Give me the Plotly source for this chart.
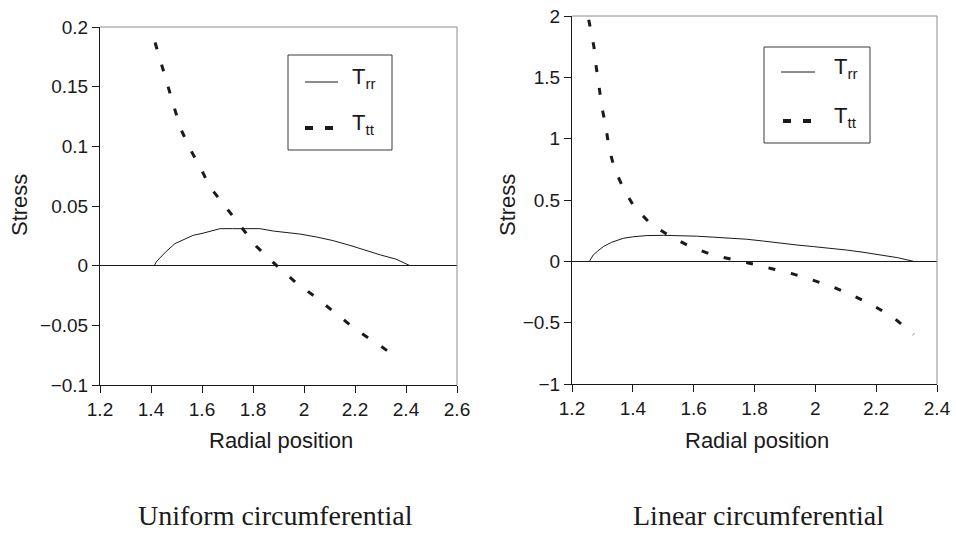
import plotly.graph_objects as go

W, H = 956, 533

# ---------------- data ----------------
uni_trr_x = [1.413, 1.42, 1.435, 1.46, 1.494, 1.53, 1.566, 1.60, 1.64, 1.671, 1.72, 1.78,
             1.827, 1.88, 1.93, 1.984, 2.05, 2.114, 2.18, 2.245, 2.30, 2.36, 2.416]
uni_trr_y = [0.0, 0.003, 0.0065, 0.012, 0.0185, 0.022, 0.0255, 0.027, 0.029, 0.031, 0.031, 0.031,
             0.031, 0.029, 0.028, 0.0265, 0.024, 0.021, 0.017, 0.0125, 0.009, 0.0055, 0.0]

uni_ttt_x = [1.416, 1.444, 1.48, 1.514, 1.55, 1.592, 1.631, 1.697, 1.749, 1.814, 1.893,
             1.965, 2.043, 2.126, 2.206, 2.285, 2.37]
uni_ttt_y = [0.187, 0.167, 0.14, 0.116, 0.099, 0.083, 0.066, 0.048, 0.034, 0.016, 0.0,
             -0.0135, -0.026, -0.040, -0.054, -0.065, -0.078]

lin_trr_x = [1.257, 1.27, 1.285, 1.303, 1.33, 1.369, 1.40, 1.446, 1.50, 1.555, 1.61, 1.665,
             1.72, 1.775, 1.83, 1.884, 1.94, 1.994, 2.05, 2.103, 2.16, 2.213, 2.27, 2.323]
lin_trr_y = [0.0, 0.052, 0.085, 0.12, 0.155, 0.188, 0.2, 0.21, 0.212, 0.21, 0.205, 0.197,
             0.19, 0.18, 0.165, 0.147, 0.133, 0.12, 0.107, 0.092, 0.073, 0.052, 0.03, 0.0]

lin_ttt_x = [1.255, 1.265, 1.272, 1.28, 1.289, 1.299, 1.312, 1.322, 1.341, 1.369, 1.404,
             1.462, 1.522, 1.588, 1.665, 1.731, 1.791, 1.857, 1.923, 1.988, 2.054, 2.125,
             2.191, 2.263, 2.323]
lin_ttt_y = [1.97, 1.85, 1.75, 1.58, 1.42, 1.25, 1.085, 0.92, 0.745, 0.596, 0.446,
             0.297, 0.207, 0.12, 0.05, 0.015, -0.02, -0.06, -0.10, -0.15, -0.205, -0.28,
             -0.36, -0.47, -0.595]

captions = ["Uniform circumferential", "Linear circumferential"]
legend_names = ["T<sub>rr</sub>", "T<sub>tt</sub>"]

# ---------------- helpers ----------------
def px(x):
    return x / W


def py(y):
    return 1 - y / H


INK = "#1a1a1a"
DASH = "7px,16px"
SANS = "Liberation Sans, Arial, sans-serif"
SERIF = "Liberation Serif, Times New Roman, serif"

fig = go.Figure()

fig.add_trace(go.Scatter(x=uni_trr_x, y=uni_trr_y, mode="lines",
                         line=dict(color=INK, width=1), xaxis="x", yaxis="y",
                         showlegend=False))
fig.add_trace(go.Scatter(x=uni_ttt_x, y=uni_ttt_y, mode="lines",
                         line=dict(color=INK, width=3, dash=DASH), xaxis="x", yaxis="y",
                         showlegend=False))
fig.add_trace(go.Scatter(x=lin_trr_x, y=lin_trr_y, mode="lines",
                         line=dict(color=INK, width=1), xaxis="x2", yaxis="y2",
                         showlegend=False))
fig.add_trace(go.Scatter(x=lin_ttt_x, y=lin_ttt_y, mode="lines",
                         line=dict(color=INK, width=3, dash=DASH), xaxis="x2", yaxis="y2",
                         showlegend=False))

axis_common = dict(showline=True, linecolor=INK, linewidth=1, ticks="outside", ticklen=7,
                   tickcolor=INK, tickwidth=1, showgrid=False, automargin=False,
                   tickfont=dict(family=SANS, size=19, color=INK))

fig.update_layout(
    template="none",
    width=W, height=H,
    margin=dict(l=0, r=0, t=0, b=0, pad=0),
    paper_bgcolor="white", plot_bgcolor="white",
    showlegend=False,
    xaxis=dict(domain=[px(100), px(457)], range=[1.2, 2.6], dtick=0.2, tick0=1.2,
               anchor="y", zeroline=False, **axis_common),
    yaxis=dict(domain=[py(385), py(27)], range=[-0.1, 0.2], dtick=0.05, tick0=0,
               anchor="x", zeroline=True, zerolinecolor=INK, zerolinewidth=1, **axis_common),
    xaxis2=dict(domain=[px(572), px(937)], range=[1.2, 2.4], dtick=0.2, tick0=1.2,
                anchor="y2", zeroline=False, **axis_common),
    yaxis2=dict(domain=[py(384), py(16)], range=[-1, 2], dtick=0.5, tick0=0,
                anchor="x2", zeroline=True, zerolinecolor=INK, zerolinewidth=1, **axis_common),
)

shapes = []
annotations = []

# grey top/right frame
for xr, yr in (("x domain", "y domain"), ("x2 domain", "y2 domain")):
    shapes.append(dict(type="line", xref=xr, yref=yr, x0=0, x1=1, y0=1, y1=1,
                       line=dict(color="#8c8c8c", width=1)))
    shapes.append(dict(type="line", xref=xr, yref=yr, x0=1, x1=1, y0=0, y1=1,
                       line=dict(color="#8c8c8c", width=1)))

# legends (box, samples, labels) in pixel positions
legends = [
    dict(box=(288, 55, 392, 150), l1=(305, 338, 82), l2=(305, 334, 128), tx=350, t1=78, t2=124),
    dict(box=(764, 47, 870, 143), l1=(781, 815, 72), l2=(783, 812, 121), tx=832, t1=68, t2=117),
]
for lg in legends:
    x0, y0, x1, y1 = lg["box"]
    shapes.append(dict(type="rect", xref="paper", yref="paper",
                       x0=px(x0), x1=px(x1), y0=py(y1), y1=py(y0),
                       line=dict(color="#3a3a3a", width=1), fillcolor="white", layer="above"))
    a, b, yy = lg["l1"]
    shapes.append(dict(type="line", xref="paper", yref="paper", x0=px(a), x1=px(b),
                       y0=py(yy), y1=py(yy), line=dict(color=INK, width=1), layer="above"))
    a, b, yy = lg["l2"]
    shapes.append(dict(type="line", xref="paper", yref="paper", x0=px(a), x1=px(b),
                       y0=py(yy), y1=py(yy), line=dict(color=INK, width=4, dash="8px,12px"),
                       layer="above"))
    for name, ty in zip(legend_names, (lg["t1"], lg["t2"])):
        annotations.append(dict(text=name, xref="paper", yref="paper", x=px(lg["tx"]),
                                y=py(ty), xanchor="left", yanchor="middle", showarrow=False,
                                font=dict(family=SANS, size=22, color=INK)))

# axis titles
for cx in (281, 757):
    annotations.append(dict(text="Radial position", xref="paper", yref="paper", x=px(cx),
                            y=py(440), xanchor="center", yanchor="middle", showarrow=False,
                            font=dict(family=SANS, size=22, color=INK)))
for cx in (20, 508):
    annotations.append(dict(text="Stress", xref="paper", yref="paper", x=px(cx),
                            y=py(205), xanchor="center", yanchor="middle", showarrow=False,
                            textangle=-90, font=dict(family=SANS, size=22, color=INK)))

# captions
for cap, cx in zip(captions, (275, 758)):
    annotations.append(dict(text=cap, xref="paper", yref="paper", x=px(cx), y=py(515),
                            xanchor="center", yanchor="middle", showarrow=False,
                            font=dict(family=SERIF, size=28, color=INK)))

fig.update_layout(shapes=shapes, annotations=annotations)

fig.write_html("out.html")
